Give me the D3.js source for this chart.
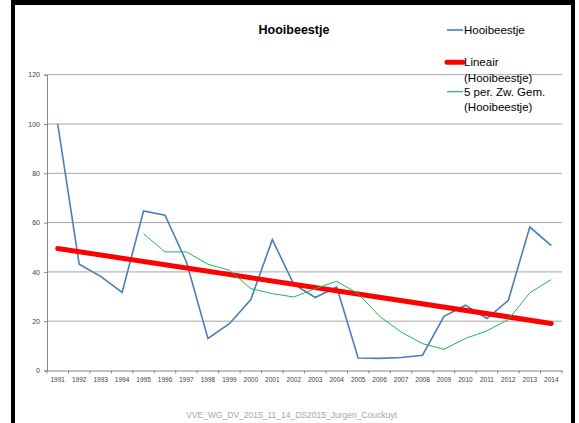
<!DOCTYPE html>
<html>
<head>
<meta charset="utf-8">
<script src="https://cdn.jsdelivr.net/npm/d3@7/dist/d3.min.js"></script>
<style>
  html, body { margin: 0; padding: 0; background: #fff; }
  svg { display: block; font-family: "Liberation Sans", Arial, sans-serif; }
</style>
</head>
<body>
<div id="chart"></div>
<script>
// gegevens
const years = d3.range(1991, 2015).map(String);
const hooibeestje = [100, 43.1, 38.2, 31.7, 64.7, 63, 44, 13, 19, 28.8, 53.1, 35,
  29.6, 33.9, 5.1, 4.9, 5.3, 6.2, 22, 26.5, 21.1, 28.5, 58.2, 50.7];
// 5 per. zwevend gemiddelde, begint in 1995
const movingAvgYears = years.slice(4);
const movingAvg = [55.5, 48.1, 48.1, 43.1, 40.7, 33.2, 31.2, 29.8, 33.2, 36.2,
  31.2, 22, 15.6, 10.9, 8.6, 13, 16.1, 20.7, 31.5, 36.9];
// lineaire trendlijn: begin- en eindwaarde
const trendYears = ['1991', '2014'];
const trendValues = [49.5, 19.1];
const yTicks = [0, 20, 40, 60, 80, 100, 120];
const legendLabels = [['Hooibeestje'], ['Lineair', '(Hooibeestje)'], ['5 per. Zw. Gem.', '(Hooibeestje)']];

const W = 579, H = 423;
const BLUE = '#4a7ebb', RED = '#ff0000', GREEN = '#1db954';

const svg = d3.select('#chart').append('svg')
  .attr('width', W)
  .attr('height', H);

// zwarte rand
svg.append('rect').attr('x', 11).attr('y', 0).attr('width', 564).attr('height', 5).attr('fill', '#000');
svg.append('rect').attr('x', 11).attr('y', 0).attr('width', 4).attr('height', H).attr('fill', '#000');
svg.append('rect').attr('x', 571).attr('y', 0).attr('width', 4).attr('height', H).attr('fill', '#000');

const x = d3.scaleBand().domain(years).range([47, 562]).padding(0);
const y = d3.scaleLinear().domain([0, 120]).range([370.5, 74.7]);
const cx = (d) => x(d) + x.bandwidth() / 2;

// rasterlijnen
svg.append('g')
  .selectAll('line')
  .data(yTicks.filter((t) => t > 0))
  .enter()
  .append('line')
  .attr('x1', 47).attr('x2', 562)
  .attr('y1', (d) => y(d)).attr('y2', (d) => y(d))
  .attr('stroke', '#a6a6a6')
  .attr('stroke-width', 1);

// y-as
const yAxis = svg.append('g')
  .attr('transform', 'translate(47,0)')
  .call(d3.axisLeft(y).tickValues(yTicks).tickSize(3).tickPadding(4));
yAxis.select('.domain').attr('stroke', '#868686');
yAxis.selectAll('.tick line').attr('stroke', '#868686');
yAxis.selectAll('.tick text').attr('fill', '#404040').style('font-size', '7px');

// x-as
const xAxis = svg.append('g')
  .attr('transform', `translate(0,${y(0)})`)
  .call(d3.axisBottom(x).tickSize(0).tickPadding(7).tickSizeOuter(0));
xAxis.select('.domain').attr('stroke', '#868686');
xAxis.selectAll('.tick text').attr('fill', '#404040').style('font-size', '6.5px');
svg.append('g')
  .selectAll('line')
  .data(years.concat(['end']))
  .enter()
  .append('line')
  .attr('x1', (d, i) => 47 + i * x.bandwidth())
  .attr('x2', (d, i) => 47 + i * x.bandwidth())
  .attr('y1', y(0)).attr('y2', y(0) + 3)
  .attr('stroke', '#868686');

const line = d3.line().x((d) => cx(d[0])).y((d) => y(d[1]));

svg.append('path')
  .datum(years.map((d, i) => [d, hooibeestje[i]]))
  .attr('d', line)
  .attr('fill', 'none')
  .attr('stroke', BLUE)
  .attr('stroke-width', 1.6);

svg.append('path')
  .datum(trendYears.map((d, i) => [d, trendValues[i]]))
  .attr('d', line)
  .attr('fill', 'none')
  .attr('stroke', RED)
  .attr('stroke-width', 5)
  .attr('stroke-linecap', 'round');

svg.append('path')
  .datum(movingAvgYears.map((d, i) => [d, movingAvg[i]]))
  .attr('d', line)
  .attr('fill', 'none')
  .attr('stroke', GREEN)
  .attr('stroke-width', 1);

// titel
svg.append('text')
  .attr('x', 294).attr('y', 34)
  .attr('text-anchor', 'middle')
  .style('font-size', '12.5px')
  .style('font-weight', 'bold')
  .text('Hooibeestje');

// legenda
const legendColors = [BLUE, RED, GREEN];
const legendWidths = [1.6, 5, 1.2];
const legendTop = [30, 62.3, 91.7];
const legend = svg.append('g')
  .selectAll('g')
  .data(legendLabels)
  .enter()
  .append('g');
legend.append('line')
  .attr('x1', 447).attr('x2', 463)
  .attr('y1', (d, i) => legendTop[i]).attr('y2', (d, i) => legendTop[i])
  .attr('stroke', (d, i) => legendColors[i])
  .attr('stroke-width', (d, i) => legendWidths[i])
  .attr('stroke-linecap', (d, i) => (i === 1 ? 'round' : 'butt'));
legend.append('text')
  .attr('x', 464)
  .attr('y', (d, i) => legendTop[i] + 4)
  .style('font-size', '11.5px')
  .attr('fill', '#000')
  .selectAll('tspan')
  .data((d) => d)
  .enter()
  .append('tspan')
  .attr('x', 464)
  .attr('dy', (d, i) => (i === 0 ? 0 : 15.5))
  .text((d) => d);

// voettekst
svg.append('text')
  .attr('x', 291.5).attr('y', 418)
  .attr('text-anchor', 'middle')
  .attr('fill', '#a6a6a6')
  .style('font-size', '8.5px')
  .text('VVE_WG_DV_2015_11_14_DS2015_Jurgen_Couckuyt');
</script>
</body>
</html>
